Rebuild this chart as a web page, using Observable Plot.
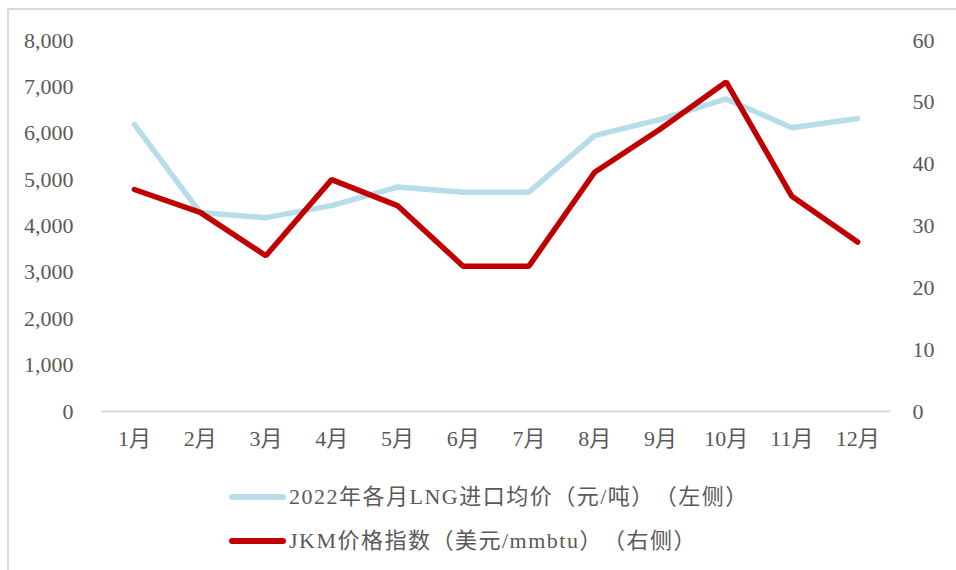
<!DOCTYPE html>
<html>
<head>
<meta charset="utf-8">
<script src="https://cdn.jsdelivr.net/npm/d3@7"></script>
<script src="https://cdn.jsdelivr.net/npm/@observablehq/plot@0.6"></script>
<style>
  html, body { margin: 0; padding: 0; background: #fff; }
  body { width: 956px; height: 570px; position: relative; overflow: hidden;
         font-family: "Liberation Serif", "Noto Sans CJK SC", serif; color: #595959; }
  #frame { position: absolute; left: 7px; top: 8px; width: 960px; height: 580px;
           border-top: 2px solid #d9d9d9; border-left: 2px solid #d9d9d9; box-sizing: border-box; }
  #chart { position: absolute; left: 0; top: 0; }
  #legend { position: absolute; left: 229px; top: 475px; font-size: 22px; line-height: 44px;
            text-spacing-trim: space-all; font-feature-settings: "halt" 0; letter-spacing: 1.5px; }
  .item { display: flex; align-items: center; white-space: nowrap; }
  .sw { display: inline-block; width: 57px; height: 6px; border-radius: 3px; margin-right: 3px; }
</style>
</head>
<body>
<div id="frame"></div>
<div id="chart"></div>
<div id="legend"></div>
<script>
const months = ["1月","2月","3月","4月","5月","6月","7月","8月","9月","10月","11月","12月"];
const lngPrice = [6190, 4290, 4180, 4440, 4840, 4730, 4730, 5950, 6300, 6740, 6120, 6320];
const jkmIndex = [35.9, 32.2, 25.2, 37.5, 33.3, 23.5, 23.5, 38.7, 45.7, 53.3, 34.8, 27.4];
const leftTicks = [0, 1000, 2000, 3000, 4000, 5000, 6000, 7000, 8000];
const rightTicks = [0, 10, 20, 30, 40, 50, 60];
const seriesNames = ["2022年各月LNG进口均价（元/吨）（左侧）", "JKM价格指数（美元/mmbtu）（右侧）"];
const colors = ["#b6dde8", "#c00000"];

const leftMax = 8000, rightMax = 60;
const k = leftMax / rightMax;

const rows = months.map((m, i) => ({month: m, lng: lngPrice[i], jkm: jkmIndex[i]}));

const chart = Plot.plot({
  width: 956,
  height: 470,
  marginLeft: 101,
  marginRight: 66,
  marginTop: 40,
  marginBottom: 59,
  style: {fontFamily: '"Liberation Serif", "Noto Sans CJK SC", serif', fontSize: "22px", color: "#595959", background: "transparent"},
  x: {domain: months, padding: 0.5, round: false},
  y: {domain: [0, leftMax]},
  marks: [
    Plot.ruleY([0], {stroke: "#d9d9d9", strokeWidth: 2}),
    Plot.axisX({tickSize: 0, tickPadding: 19, label: null, fontSize: 22}),
    Plot.axisY(leftTicks, {anchor: "left", tickSize: 0, tickPadding: 28, label: null, tickFormat: d3.format(","), fontSize: 22}),
    Plot.axisY(rightTicks.map(d => d * k), {anchor: "right", tickSize: 0, tickPadding: 22, label: null, tickFormat: d => String(Math.round(d / k)), fontSize: 22}),
    Plot.line(rows, {x: "month", y: "lng", stroke: colors[0], strokeWidth: 5.5, strokeLinejoin: "miter", strokeLinecap: "round"}),
    Plot.line(rows, {x: "month", y: d => d.jkm * k, stroke: colors[1], strokeWidth: 5.5, strokeLinejoin: "miter", strokeLinecap: "round"})
  ]
});
document.getElementById("chart").appendChild(chart);

const legend = document.getElementById("legend");
seriesNames.forEach((name, i) => {
  const it = document.createElement("div");
  it.className = "item";
  const sw = document.createElement("span");
  sw.className = "sw";
  sw.style.background = colors[i];
  const tx = document.createElement("span");
  tx.textContent = name;
  it.appendChild(sw); it.appendChild(tx);
  legend.appendChild(it);
});
</script>
</body>
</html>
